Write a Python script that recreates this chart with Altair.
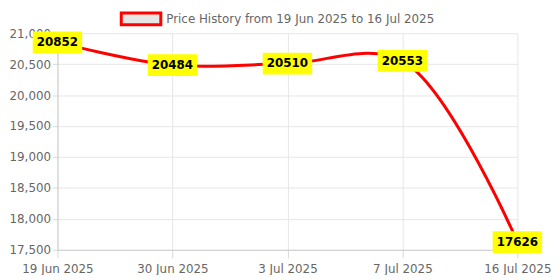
import altair as alt
import pandas as pd

dates = ["19 Jun 2025", "30 Jun 2025", "3 Jul 2025", "7 Jul 2025", "16 Jul 2025"]
prices = [20852, 20484, 20510, 20553, 17626]
series_name = "Price History from 19 Jun 2025 to 16 Jul 2025"

df = pd.DataFrame({"date": dates, "price": prices, "series": series_name})

FONT = "DejaVu Sans"
GREY = "#666666"

x = alt.X("date:O", sort=dates, title=None,
          scale=alt.Scale(type="point", padding=0),
          axis=alt.Axis(labelAngle=0, labelColor=GREY, labelFontSize=12, labelFont=FONT,
                        tickColor="#d9d9d9", tickSize=8, domainColor="#cccccc",
                        gridColor="#e6e6e6", grid=True, labelPadding=6))
y = alt.Y("price:Q", title=None,
          scale=alt.Scale(domain=[17500, 21000], nice=False, zero=False),
          axis=alt.Axis(values=list(range(17500, 21001, 500)), format=",.0f",
                        labelColor=GREY, labelFontSize=12, labelFont=FONT,
                        tickColor="#d9d9d9", tickSize=5, domainColor="#cccccc",
                        gridColor="#e6e6e6", labelPadding=2))

line = alt.Chart(df).mark_line(interpolate="catmull-rom", strokeWidth=3, clip=True).encode(
    x=x, y=y,
    color=alt.Color("series:N", scale=alt.Scale(range=["#ff0000"]),
                    legend=alt.Legend(orient="none", legendX=63, legendY=-36, title=None,
                                      symbolType="M-1,-0.3L1,-0.3L1,0.3L-1,0.3Z",
                                      symbolSize=1600, symbolFillColor="#e6e6e6",
                                      symbolStrokeColor="#ff0000", symbolStrokeWidth=3,
                                      symbolOpacity=1,
                                      labelFont=FONT, labelFontSize=12, labelColor=GREY,
                                      labelOffset=4, padding=0, labelLimit=400))
)

boxes = alt.Chart(df).mark_point(
    shape="M-1,-0.44L1,-0.44L1,0.44L-1,0.44Z", size=2500, filled=True,
    fill="#ffff00", opacity=1, strokeWidth=0
).encode(x=x, y=y)

labels = alt.Chart(df).mark_text(
    font=FONT, fontSize=12, fontWeight="bold", color="#000000", baseline="middle", align="center"
).encode(x=x, y=y, text=alt.Text("price:Q", format="d"))

chart = alt.layer(line, boxes, labels).properties(
    width=465, height=219,
    autosize=alt.AutoSizeParams(type="none"),
    padding={"left": 50, "top": 24, "right": 35, "bottom": 24},
).configure_view(stroke=None)

chart.save("out.html", embed_options={"renderer": "svg", "actions": False})
